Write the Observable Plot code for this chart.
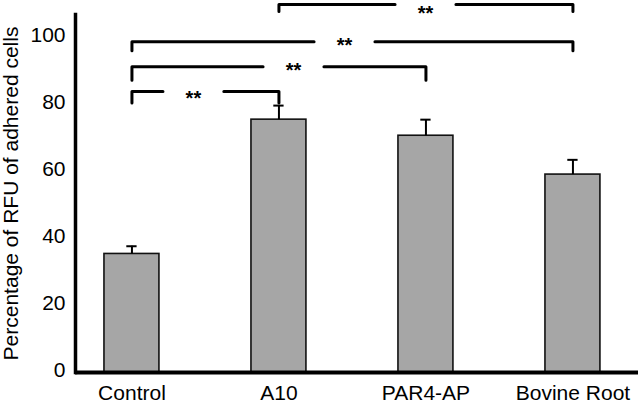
<!DOCTYPE html>
<html>
<head>
<meta charset="utf-8">
<script src="https://cdn.jsdelivr.net/npm/d3@7"></script>
<script src="https://cdn.jsdelivr.net/npm/@observablehq/plot@0.6"></script>
<style>
  html, body { margin: 0; padding: 0; background: #fff; }
</style>
</head>
<body>
<div id="chart"></div>
<script>
// ---- data ----
const categories = ["Control", "A10", "PAR4-AP", "Bovine Root"];
const means      = [35.4, 75.5, 70.7, 59.1];
const errors     = [2.3, 4.2, 4.8, 4.4];
const yTicks     = [0, 20, 40, 60, 80, 100];

// significance brackets (category indices, levels in y units, star position)
const bracketFrom  = [0, 0, 0, 1];
const bracketTo    = [1, 2, 3, 3];
const bracketLevel = [83.9, 91.3, 98.8, 109.9];
const bracketDrop  = [80.5, 87.3, 96.1, 107.8];
const bracketStarX = [0.418, 1.099, 1.446, 1.997];
const bracketStarY = [83.3, 91.6, 99.1, 108.6];
const bracketLabel = ["**", "**", "**", "**"];

// ---- styling constants ----
const BAR_HALF = 0.187;   // half bar width, x units
const CAP_HALF = 0.035;   // half error cap width, x units
const GAP_HALF = 0.207;   // half gap around the stars, x units

const bars = categories.map((c, i) => ({i, cat: c, mean: means[i], top: means[i] + errors[i]}));

const segs = [];
bracketFrom.forEach((f, k) => {
  const t = bracketTo[k], L = bracketLevel[k], D = bracketDrop[k], s = bracketStarX[k];
  segs.push({seg: k + "a", x: f, y: D}, {seg: k + "a", x: f, y: L}, {seg: k + "a", x: s - GAP_HALF, y: L});
  segs.push({seg: k + "b", x: s + GAP_HALF, y: L}, {seg: k + "b", x: t, y: L}, {seg: k + "b", x: t, y: D});
});
const stars = bracketFrom.map((f, k) => ({x: bracketStarX[k], y: bracketStarY[k], label: bracketLabel[k]}));

const chart = Plot.plot({
  width: 642,
  height: 406,
  marginLeft: 75,
  marginRight: 4,
  marginTop: 14,
  marginBottom: 34,
  x: {domain: [-0.384, 3.446]},
  y: {domain: [0, 106.9]},
  style: {fontFamily: "'Liberation Sans', Arial, sans-serif", fontSize: "21px", color: "black", background: "white"},
  marks: [
    Plot.rect(bars, {x1: d => d.i - BAR_HALF, x2: d => d.i + BAR_HALF, y1: 0, y2: "mean",
      fill: "#a6a6a6", stroke: "#111", strokeWidth: 1.6}),
    Plot.ruleX(bars, {x: "i", y1: "mean", y2: "top", stroke: "black", strokeWidth: 2}),
    Plot.ruleY(bars, {y: "top", x1: d => d.i - CAP_HALF, x2: d => d.i + CAP_HALF, stroke: "black", strokeWidth: 2}),
    Plot.line(segs, {x: "x", y: "y", z: "seg", stroke: "black", strokeWidth: 3, strokeLinejoin: "round", curve: "linear"}),
    Plot.text(stars, {x: "x", y: "y", text: "label", fontSize: 20, fontWeight: "bold", dy: 5}),
    Plot.ruleY([0], {stroke: "black", strokeWidth: 4}),
    Plot.frame({anchor: "left", stroke: "black", strokeWidth: 3.5}),
    Plot.axisY({ticks: yTicks, tickSize: 0, tickPadding: 10, fontSize: 21, dy: -2,
      label: "Percentage of RFU of adhered cells", labelAnchor: "center", labelArrow: "none", labelOffset: 72}),
    Plot.axisX({ticks: [0, 1, 2, 3], tickFormat: i => categories[i], tickSize: 0, tickPadding: 13,
      fontSize: 21, label: null})
  ]
});
document.getElementById("chart").appendChild(chart);
</script>
</body>
</html>
